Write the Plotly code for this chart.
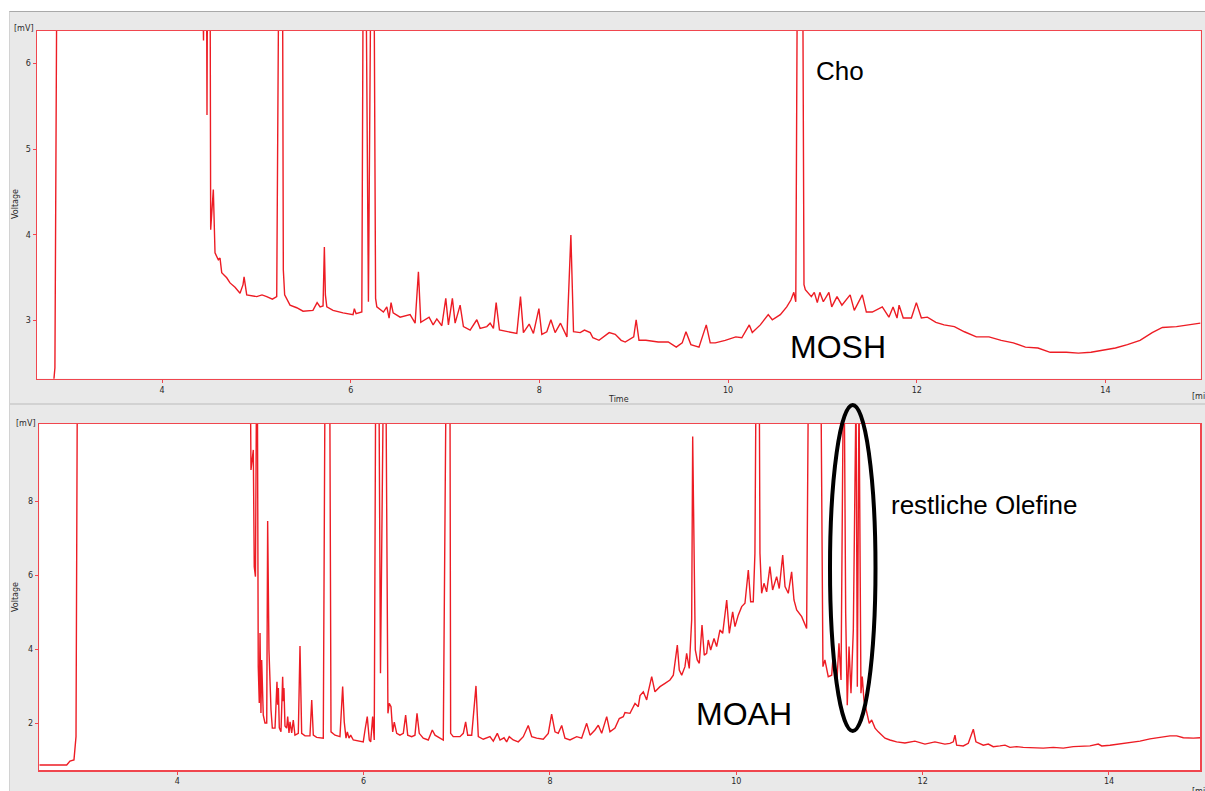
import plotly.graph_objects as go

# ---------------- data ----------------
top_time = [2.675, 2.845, 2.865, 2.885, 4.43, 4.44, 4.445, 4.472, 4.477, 4.482, 4.51, 4.516, 4.544, 4.562,
            4.597, 4.615, 4.633, 4.686, 4.721, 4.774, 4.827, 4.859, 4.870, 4.885, 4.898, 5.004, 5.06, 5.11,
            5.17, 5.216, 5.237, 5.246, 5.278, 5.286, 5.30, 5.357, 5.428, 5.495, 5.60, 5.644, 5.676, 5.707,
            5.721, 5.732, 5.747, 5.813, 5.919, 6.025, 6.039, 6.057, 6.118, 6.132, 6.163, 6.188, 6.213, 6.248,
            6.264, 6.277, 6.347, 6.383, 6.407, 6.428, 6.45, 6.524, 6.63, 6.683, 6.718, 6.743, 6.831, 6.874,
            6.913, 6.966, 7.008, 7.036, 7.078, 7.107, 7.16, 7.195, 7.266, 7.337, 7.372, 7.443, 7.478, 7.513,
            7.542, 7.577, 7.655, 7.725, 7.761, 7.80, 7.831, 7.892, 7.937, 7.995, 8.026, 8.079, 8.122, 8.167,
            8.224, 8.292, 8.334, 8.362, 8.433, 8.478, 8.539, 8.567, 8.632, 8.74, 8.804, 8.867, 8.91, 9.0,
            9.026, 9.056, 9.129, 9.26, 9.366, 9.451, 9.514, 9.554, 9.606, 9.692, 9.769, 9.811, 9.864, 9.97,
            10.082, 10.146, 10.225, 10.257, 10.342, 10.426, 10.469, 10.554, 10.622, 10.666, 10.697, 10.718,
            10.734, 10.792, 10.805, 10.819, 10.883, 10.914, 10.946, 10.973, 11.01, 11.069, 11.099, 11.155,
            11.207, 11.294, 11.338, 11.423, 11.466, 11.529, 11.635, 11.705, 11.749, 11.791, 11.813, 11.857,
            11.943, 11.996, 12.049, 12.113, 12.203, 12.29, 12.399, 12.505, 12.632, 12.766, 12.895, 13.024,
            13.152, 13.285, 13.415, 13.586, 13.714, 13.847, 13.979, 14.106, 14.233, 14.367, 14.496, 14.604,
            14.753, 14.908, 15.007]
top_voltage = [2.0, 2.2, 2.45, 7.0, 7.0, 6.27, 7.0, 7.0, 5.40, 7.0, 7.0, 4.06, 4.53, 3.79,
               3.71, 3.73, 3.56, 3.50, 3.44, 3.39, 3.32, 3.42, 3.51, 3.36, 3.30, 3.28, 3.30, 3.28,
               3.25, 3.28, 7.0, 7.0, 7.0, 3.59, 3.30, 3.18, 3.15, 3.11, 3.12, 3.21, 3.16, 3.17,
               3.86, 3.30, 3.16, 3.12, 3.09, 3.07, 3.14, 3.08, 3.10, 7.0, 7.0, 3.22, 7.0, 7.0,
               3.26, 3.16, 3.10, 3.16, 3.03, 3.21, 3.09, 3.04, 3.07, 2.97, 3.57, 2.98, 3.04, 2.95,
               3.02, 2.94, 3.26, 2.95, 3.26, 2.97, 3.18, 2.93, 2.89, 3.01, 2.91, 2.93, 2.97, 2.91,
               3.21, 2.89, 2.87, 2.86, 2.85, 3.28, 2.86, 2.96, 2.85, 3.14, 2.84, 2.87, 3.01, 2.86,
               2.97, 2.81, 4.00, 2.87, 2.86, 2.89, 2.86, 2.80, 2.77, 2.86, 2.84, 2.77, 2.75, 2.81,
               3.01, 2.77, 2.77, 2.75, 2.75, 2.69, 2.74, 2.87, 2.72, 2.69, 2.95, 2.74, 2.74, 2.77,
               2.81, 2.80, 2.95, 2.86, 2.95, 3.07, 3.01, 3.07, 3.16, 3.24, 3.33, 3.22,
               7.0, 7.0, 3.42, 3.36, 3.28, 3.33, 3.21, 3.33, 3.22, 3.33, 3.16, 3.28,
               3.18, 3.30, 3.12, 3.30, 3.10, 3.10, 3.16, 3.04, 3.16, 3.03, 3.18, 3.03,
               3.03, 3.21, 3.03, 3.04, 2.98, 2.95, 2.93, 2.87, 2.81, 2.81, 2.77, 2.74,
               2.69, 2.68, 2.63, 2.63, 2.62, 2.63, 2.66, 2.68, 2.72, 2.77, 2.86, 2.92,
               2.93, 2.95, 2.97]

bottom_time = [2.519, 2.813, 2.848, 2.891, 2.913, 2.927, 4.785, 4.791, 4.816, 4.826, 4.839, 4.85, 4.86,
               4.869, 4.88, 4.888, 4.898, 4.906, 4.923, 4.941, 4.96, 4.97, 4.984, 4.995, 5.006, 5.02, 5.049,
               5.07, 5.077, 5.085, 5.095, 5.113, 5.131, 5.138, 5.145, 5.156, 5.174, 5.185, 5.199, 5.21, 5.228,
               5.245, 5.263, 5.299, 5.317, 5.335, 5.371, 5.424, 5.443, 5.46, 5.496, 5.567, 5.585, 5.637, 5.642,
               5.65, 5.693, 5.746, 5.775, 5.792, 5.811, 5.825, 5.843, 5.861, 5.889, 5.961, 5.996, 6.015, 6.039,
               6.061, 6.076, 6.097, 6.114, 6.129, 6.165, 6.181, 6.211, 6.24, 6.261, 6.275, 6.294, 6.312, 6.329,
               6.355, 6.39, 6.426, 6.451, 6.473, 6.516, 6.551, 6.573, 6.597, 6.64, 6.694, 6.737, 6.766, 6.82,
               6.855, 6.884, 6.927, 6.934, 6.962, 7.034, 7.07, 7.095, 7.117, 7.16, 7.206, 7.231, 7.284, 7.356,
               7.392, 7.435, 7.464, 7.507, 7.535, 7.563, 7.606, 7.66, 7.714, 7.767, 7.804, 7.857, 7.928, 7.982,
               8.018, 8.054, 8.089, 8.126, 8.161, 8.215, 8.287, 8.34, 8.394, 8.43, 8.483, 8.519, 8.555, 8.609,
               8.644, 8.698, 8.744, 8.787, 8.805, 8.859, 8.913, 8.948, 8.967, 9.002, 9.038, 9.055, 9.092, 9.127,
               9.181, 9.235, 9.288, 9.324, 9.367, 9.388, 9.414, 9.449, 9.467, 9.495, 9.521, 9.532, 9.546, 9.56,
               9.581, 9.603, 9.632, 9.656, 9.682, 9.699, 9.725, 9.761, 9.789, 9.825, 9.854, 9.897, 9.925, 9.961,
               9.986, 10.021, 10.058, 10.093, 10.129, 10.154, 10.182, 10.2, 10.211, 10.247, 10.254, 10.272,
               10.297, 10.326, 10.361, 10.39, 10.433, 10.461, 10.498, 10.523, 10.558, 10.594, 10.619, 10.648,
               10.702, 10.755, 10.773, 10.909, 10.93, 10.951, 10.987, 11.024, 11.041, 11.077, 11.102, 11.124,
               11.148, 11.159, 11.174, 11.191, 11.21, 11.231, 11.256, 11.285, 11.299, 11.317, 11.338, 11.352,
               11.37, 11.399, 11.427, 11.453, 11.489, 11.524, 11.56, 11.596, 11.649, 11.721, 11.81, 11.917,
               12.025, 12.132, 12.239, 12.293, 12.329, 12.347, 12.365, 12.436, 12.49, 12.544, 12.572, 12.615,
               12.651, 12.705, 12.758, 12.83, 12.884, 12.937, 13.009, 13.08, 13.188, 13.295, 13.402, 13.51,
               13.617, 13.724, 13.796, 13.885, 13.922, 14.011, 14.118, 14.226, 14.333, 14.44, 14.548, 14.655,
               14.727, 14.798, 14.906, 14.978]
bottom_voltage = [0.875, 0.875, 0.98, 1.01, 1.64, 11, 11, 8.84, 9.38, 6.23, 5.96, 11, 11,
                  3.53, 2.55, 4.44, 2.28, 3.71, 2.22, 2.01, 2.01, 7.46, 3.98, 2.82, 2.36, 1.87, 1.87,
                  3.12, 2.50, 2.95, 1.88, 1.77, 3.26, 2.60, 2.95, 1.93, 1.87, 2.18, 1.74, 2.04, 1.74,
                  2.09, 1.68, 1.73, 4.09, 1.73, 1.66, 1.66, 2.63, 1.68, 1.62, 1.60, 11, 11, 2.82,
                  1.77, 1.68, 1.64, 2.99, 2.04, 1.60, 1.77, 1.60, 1.68, 1.55, 1.52, 1.50, 1.82, 2.18,
                  1.55, 1.50, 2.18, 1.55, 11, 11, 3.35, 11, 11, 2.27, 2.54, 2.45, 1.77, 2.03,
                  1.73, 1.68, 1.73, 2.22, 1.68, 1.64, 1.68, 2.27, 1.73, 1.60, 1.55, 1.82, 1.68, 1.60,
                  1.55, 11, 11, 1.73, 1.64, 1.64, 1.73, 2.04, 1.68, 1.68, 3.01, 1.64, 1.57, 1.64,
                  1.52, 1.73, 1.55, 1.61, 1.50, 1.64, 1.55, 1.50, 1.64, 1.94, 1.64, 1.60, 1.57, 1.73,
                  2.25, 1.77, 1.73, 1.94, 1.60, 1.55, 1.64, 1.60, 2.00, 1.68, 1.82, 1.95, 1.73, 2.18,
                  1.77, 1.87, 2.13, 2.18, 2.29, 2.27, 2.54, 2.45, 2.75, 2.85, 2.63, 2.85, 3.26, 2.85,
                  2.99, 3.08, 3.17, 3.30, 4.11, 3.44, 3.30, 3.53, 3.89, 3.48, 4.79, 9.74, 6.60, 3.98,
                  3.71, 3.62, 4.65, 3.84, 3.89, 4.25, 3.98, 4.29, 4.07, 4.52, 4.43, 5.33, 4.43, 5.01,
                  4.61, 4.92, 5.15, 5.24, 6.14, 5.28, 5.28, 6.59, 11, 11, 6.59, 5.51,
                  5.78, 5.55, 6.23, 5.60, 5.96, 5.64, 6.54, 5.69, 5.51, 6.09, 5.33, 5.06,
                  4.88, 4.56, 11, 11, 3.53, 3.71, 3.26, 3.30, 3.89, 2.99, 4.16, 3.17,
                  11, 11, 4.97, 2.49, 4.07, 2.81, 4.52, 11, 2.99, 11, 2.81, 3.26,
                  2.63, 2.27, 2.00, 2.09, 1.87, 1.77, 1.68, 1.60, 1.55, 1.50, 1.47, 1.52,
                  1.44, 1.50, 1.44, 1.46, 1.50, 1.68, 1.41, 1.39, 1.46, 1.84, 1.50, 1.44,
                  1.41, 1.44, 1.37, 1.39, 1.41, 1.35, 1.37, 1.35, 1.34, 1.33, 1.35, 1.33,
                  1.37, 1.37, 1.39, 1.44, 1.39, 1.41, 1.44, 1.48, 1.52, 1.58, 1.62, 1.66,
                  1.66, 1.61, 1.60, 1.61]

time_ticks = [4, 6, 8, 10, 12, 14]
top_voltage_ticks = [3, 4, 5, 6]
bottom_voltage_ticks = [2, 4, 6, 8]

# ---------------- layout helpers ----------------
W, H = 1205, 791
RED = "rgb(237,28,36)"
FRAME = "rgb(240,70,78)"


def fx(p):
    return p / W


def fy(p):
    return 1 - p / H


tick_font = dict(family="DejaVu Sans", size=8, color="#2a2a2a")

fig = go.Figure()
fig.add_trace(go.Scatter(x=top_time, y=top_voltage, mode="lines", xaxis="x", yaxis="y",
                         line=dict(color=RED, width=1.4), hoverinfo="skip", showlegend=False))
fig.add_trace(go.Scatter(x=bottom_time, y=bottom_voltage, mode="lines", xaxis="x2", yaxis="y2",
                         line=dict(color=RED, width=1.4), hoverinfo="skip", showlegend=False))

axis_common = dict(showline=True, linecolor=FRAME, linewidth=1.5, mirror=True, ticks="outside",
                   ticklen=3, tickcolor=FRAME, tickwidth=1, showgrid=False, zeroline=False,
                   tickfont=tick_font, fixedrange=True)

fig.update_layout(
    width=W, height=H, autosize=False,
    margin=dict(l=0, r=0, t=0, b=0, pad=0),
    paper_bgcolor="#e9e9e9", plot_bgcolor="white",
    showlegend=False,
    xaxis=dict(domain=[fx(37), fx(1200.7)], range=[2.675, 15.01], anchor="y",
               tickvals=time_ticks, **axis_common),
    yaxis=dict(domain=[fy(378.7), fy(31)], range=[2.322, 6.38], anchor="x",
               tickvals=top_voltage_ticks, **axis_common),
    xaxis2=dict(domain=[fx(39.3), fx(1200)], range=[2.519, 14.977], anchor="y2",
                tickvals=time_ticks, **axis_common),
    yaxis2=dict(domain=[fy(770), fy(424)], range=[0.74, 10.08], anchor="x2",
                tickvals=bottom_voltage_ticks, **axis_common),
)

shapes = [
    dict(type="rect", xref="paper", yref="paper", x0=0, x1=fx(9), y0=0, y1=1,
         fillcolor="white", line=dict(width=0), layer="below"),
    dict(type="rect", xref="paper", yref="paper", x0=0, x1=1, y0=fy(11), y1=1,
         fillcolor="white", line=dict(width=0), layer="below"),
    dict(type="line", xref="paper", yref="paper", x0=fx(9), x1=1, y0=fy(11.5), y1=fy(11.5),
         line=dict(color="#a9a9a9", width=1.2)),
    dict(type="line", xref="paper", yref="paper", x0=fx(9), x1=1, y0=fy(404), y1=fy(404),
         line=dict(color="#bcbcbc", width=1.2)),
    dict(type="line", xref="paper", yref="paper", x0=fx(9.5), x1=fx(9.5), y0=0, y1=fy(11.5),
         line=dict(color="#d2d2d2", width=1)),
    dict(type="circle", xref="paper", yref="paper", x0=fx(830), x1=fx(875.5), y0=fy(731), y1=fy(405),
         line=dict(color="black", width=4), fillcolor="rgba(0,0,0,0)"),
]
fig.update_layout(shapes=shapes)

small = dict(family="DejaVu Sans", size=8, color="#2a2a2a")
big = dict(family="Liberation Sans", color="black")
annotations = [
    dict(text="[mV]", x=fx(24), y=fy(28.5), font=small),
    dict(text="[mV]", x=fx(26), y=fy(423), font=small),
    dict(text="Voltage", x=fx(15), y=fy(204), textangle=-90, font=small),
    dict(text="Voltage", x=fx(15), y=fy(597), textangle=-90, font=small),
    dict(text="Time", x=fx(618), y=fy(400), font=small),
    dict(text="[min]", x=fx(1190), y=fy(396.5), xanchor="left", font=small),
    dict(text="[min]", x=fx(1190), y=fy(785), xanchor="left", yanchor="top", font=small),
    dict(text="Cho", x=fx(814), y=fy(71), xanchor="left", font=dict(size=26, **big)),
    dict(text="MOSH", x=fx(837.5), y=fy(347), font=dict(size=32, **big)),
    dict(text="MOAH", x=fx(744), y=fy(714), font=dict(size=32, **big)),
    dict(text="restliche Olefine", x=fx(889), y=fy(505), xanchor="left", font=dict(size=26, **big)),
]
for a in annotations:
    a.setdefault("xanchor", "center")
    a.setdefault("yanchor", "middle")
    a.update(xref="paper", yref="paper", showarrow=False)
fig.update_layout(annotations=annotations)

fig.write_html(
    "out.html",
    config={"displayModeBar": False, "staticPlot": True},
    post_script="document.body.style.margin='0';document.body.style.padding='0';"
                "document.body.style.overflow='hidden';",
)
